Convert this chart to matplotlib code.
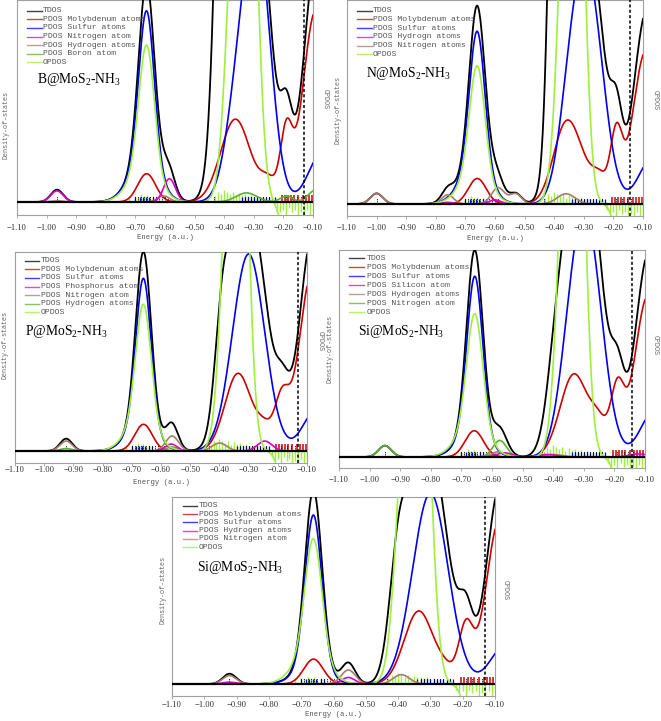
import numpy as np
import matplotlib
matplotlib.use("Agg")
import matplotlib.pyplot as plt
from matplotlib.lines import Line2D

plt.rcParams['mathtext.fontset'] = 'custom'
plt.rcParams['mathtext.rm'] = 'Liberation Serif'
plt.rcParams['mathtext.it'] = 'Liberation Serif:italic'

W, H = 661, 721

# ---------------- data (peak lists: centre [a.u.], height, width) ----------------
ENERGY_TICKS = [-1.10, -1.00, -0.90, -0.80, -0.70, -0.60, -0.50, -0.40, -0.30, -0.20, -0.10]
TICK_LABELS = ['\u22121.10', '\u22121.00', '\u22120.90', '\u22120.80', '\u22120.70', '\u22120.60',
               '\u22120.50', '\u22120.40', '\u22120.30', '\u22120.20', '\u22120.10']

# Panel 1  B@MoS2-NH3
B_MO = [(-0.662, 0.14, 0.03), (-0.362, 0.41, 0.05), (-0.25, 0.10, 0.028), (-0.19, 0.33, 0.02), (-0.09, 0.95, 0.0436)]
B_S = [(-0.662, 0.76, 0.026), (-0.672, 0.19, 0.05), (-0.36, 0.36, 0.04), (-0.29, 1.31, 0.045), (-0.07, 0.24, 0.045)]
B_N = [(-0.965, 0.055, 0.021), (-0.585, 0.115, 0.02)]
B_H = [(-0.965, 0.006, 0.021), (-0.605, 0.03, 0.02)]
B_B = [(-0.325, 0.045, 0.035), (-0.19, 0.03, 0.02), (-0.09, 0.06, 0.025)]
B_OTHER = [(-0.39, 2.86, 0.03)]
B_OPDOS = [(-0.662, 0.62, 0.026), (-0.672, 0.16, 0.05), (-0.36, 1.5, 0.03), (-0.314, 1.8, 0.027), (-0.12, -3.0, 0.035)]
B_HOMO = -0.131

# Panel 2  N@MoS2-NH3
N_MO = [(-0.66, 0.125, 0.03), (-0.365, 0.33, 0.042), (-0.31, 0.15, 0.045), (-0.245, 0.10, 0.025),
        (-0.19, 0.33, 0.02), (-0.09, 0.75, 0.0436)]
N_S = [(-0.66, 0.68, 0.026), (-0.67, 0.17, 0.05), (-0.345, 0.35, 0.04), (-0.285, 1.05, 0.05), (-0.07, 0.22, 0.045)]
N_HYD = [(-0.60, 0.02, 0.02), (-0.76, 0.008, 0.02)]
N_NIT = [(-1.00, 0.052, 0.021), (-0.76, 0.045, 0.02), (-0.59, 0.08, 0.022), (-0.53, 0.05, 0.02), (-0.36, 0.05, 0.03)]
N_OTHER = [(-0.39, 2.5, 0.0226)]
N_OPDOS = [(-0.66, 0.54, 0.026), (-0.67, 0.14, 0.05), (-0.355, 1.5, 0.03), (-0.326, 1.8, 0.027), (-0.11, -3.0, 0.035)]
N_HOMO = -0.143

# Panel 3  P@MoS2-NH3
P_MO = [(-0.66, 0.134, 0.03), (-0.336, 0.39, 0.045), (-0.245, 0.10, 0.028), (-0.185, 0.26, 0.025), (-0.085, 0.88, 0.042)]
P_S = [(-0.66, 0.75, 0.026), (-0.67, 0.12, 0.05), (-0.30, 0.99, 0.055), (-0.07, 0.20, 0.045)]
P_P = [(-0.565, 0.035, 0.02), (-0.245, 0.05, 0.025)]
P_NIT = [(-0.925, 0.05, 0.021), (-0.562, 0.075, 0.022), (-0.40, 0.04, 0.025)]
P_HYD = [(-0.925, 0.012, 0.021), (-0.562, 0.02, 0.02)]
P_OTHER = [(-0.39, 0.40, 0.025)]
P_OPDOS = [(-0.66, 0.59, 0.026), (-0.67, 0.15, 0.05), (-0.36, 1.5, 0.03), (-0.329, 1.8, 0.027), (-0.11, -3.0, 0.035)]
P_HOMO = -0.131

# Panel 4  Si@MoS2-NH3 (with N)
SI_MO = [(-0.658, 0.127, 0.03), (-0.332, 0.40, 0.045), (-0.25, 0.14, 0.028), (-0.19, 0.31, 0.022), (-0.09, 0.78, 0.0436)]
SI_S = [(-0.656, 0.775, 0.026), (-0.666, 0.10, 0.05), (-0.345, 0.25, 0.04), (-0.29, 1.08, 0.05), (-0.07, 0.22, 0.045)]
SI_SI = [(-0.56, 0.02, 0.025), (-0.42, 0.012, 0.03), (-0.12, 0.015, 0.03)]
SI_HYD = [(-0.58, 0.025, 0.022), (-0.40, 0.012, 0.03)]
SI_NIT = [(-0.95, 0.055, 0.021), (-0.575, 0.08, 0.022)]
SI_OTHER = [(-0.39, 0.30, 0.03)]
SI_OPDOS = [(-0.656, 0.556, 0.026), (-0.666, 0.139, 0.05), (-0.352, 1.5, 0.03), (-0.325, 1.8, 0.027), (-0.11, -3.0, 0.035)]
SI_HOMO = -0.144

# Panel 5  Si@MoS2-NH3
S5_MO = [(-0.662, 0.133, 0.03), (-0.336, 0.39, 0.045), (-0.25, 0.06, 0.028), (-0.19, 0.30, 0.022), (-0.085, 0.88, 0.042)]
S5_S = [(-0.662, 0.825, 0.026), (-0.672, 0.08, 0.05), (-0.30, 1.02, 0.055), (-0.07, 0.20, 0.045)]
S5_HYD = [(-0.922, 0.01, 0.021), (-0.554, 0.035, 0.02)]
S5_NIT = [(-0.922, 0.045, 0.021), (-0.554, 0.075, 0.022), (-0.39, 0.05, 0.025)]
S5_OTHER = [(-0.40, 0.5, 0.028)]
S5_OPDOS = [(-0.662, 0.62, 0.026), (-0.672, 0.16, 0.05), (-0.373, 1.5, 0.03), (-0.325, 1.8, 0.027), (-0.11, -3.0, 0.035)]
S5_HOMO = -0.131

# discrete orbital-level sticks (shared MoS2 cluster levels)
STICK_TDOS = [-0.70, -0.69, -0.68, -0.67, -0.66, -0.65, -0.64, -0.63, -0.62, -0.61, -0.60, -0.59,
              -0.435, -0.33, -0.32, -0.31, -0.30, -0.29, -0.28, -0.27, -0.26, -0.25, -0.24,
              -0.19, -0.17, -0.155, -0.14]
STICK_S = [-0.70, -0.685, -0.675, -0.665, -0.655, -0.64, -0.63, -0.34, -0.33, -0.32, -0.31, -0.30,
           -0.29, -0.28, -0.27, -0.26, -0.25, -0.24, -0.23]
STICK_MO = [-0.205, -0.195, -0.185, -0.175, -0.165, -0.15, -0.135, -0.125, -0.115, -0.105]
STICK_OP_E = [-0.72, -0.70, -0.69, -0.68, -0.67, -0.66, -0.65, -0.64, -0.43, -0.42, -0.41, -0.40, -0.39,
              -0.38, -0.37, -0.36, -0.35, -0.34, -0.33, -0.32, -0.31, -0.30, -0.29, -0.28, -0.27, -0.26,
              -0.22, -0.21, -0.20, -0.19, -0.18, -0.17, -0.16, -0.15, -0.14, -0.13, -0.12, -0.11, -0.10]
STICK_OP_H = [0.02, 0.03, 0.025, 0.04, 0.03, 0.035, 0.02, 0.03, 0.03, 0.05, 0.04, 0.06, 0.05,
              0.04, 0.05, 0.03, 0.045, 0.035, 0.04, 0.03, 0.035, 0.025, 0.03, 0.02, 0.025, 0.02,
              -0.03, -0.05, -0.04, -0.07, -0.03, -0.05, -0.04, -0.07, -0.05, -0.07, -0.04, -0.07, -0.05]
NH3_LEVEL = {'B': -0.965, 'N': -1.00, 'P': -0.925, 'SI': -0.95, 'S5': -0.922}

# ---------------- styling ----------------
C_TDOS, C_MO, C_S = '#000000', '#cc0000', '#0000ee'
C_MAG, C_BRN, C_DGR, C_OP = '#dd00cc', '#a67c6e', '#5cb030', '#9ef03c'

MONO = 'Liberation Mono'
SERIF = 'Liberation Serif'


def dos(x, peaks):
    y = np.zeros_like(x)
    for c, h, s in peaks:
        y += h * np.exp(-(x - c) ** 2 / (2 * s * s))
    return y


x = np.linspace(-1.10, -0.10, 2000)

panels = [
    dict(key='B', title='B@MoS$_2$-NH$_3$', box=(17, 313, 0, 215), base=202,
         comps=[(B_MO, C_MO), (B_S, C_S), (B_H, C_BRN), (B_B, C_DGR), (B_N, C_MAG)],
         other=B_OTHER, opdos=B_OPDOS, homo=B_HOMO,
         legend=[('TDOS', C_TDOS), ('PDOS Molybdenum atoms', C_MO), ('PDOS Sulfur atoms', C_S),
                 ('PDOS Nitrogen atom', C_MAG), ('PDOS Hydrogen atoms', C_BRN),
                 ('PDOS Boron atom', C_DGR), ('OPDOS', C_OP)],
         leg=(10.7, 8.6, 10, 25, 26), tpos=(37, 80), tick_y=228, xlab_y=237,
         dos_lab=(6, 125), op_lab=(325, 99)),
    dict(key='N', title='N@MoS$_2$-NH$_3$', box=(347, 643, 0, 216), base=204,
         comps=[(N_MO, C_MO), (N_S, C_S), (N_NIT, C_BRN), (N_HYD, C_MAG)],
         other=N_OTHER, opdos=N_OPDOS, homo=N_HOMO,
         legend=[('TDOS', C_TDOS), ('PDOS Molybdenum atoms', C_MO), ('PDOS Sulfur atoms', C_S),
                 ('PDOS Hydrogn atoms', C_MAG), ('PDOS Nitrogen atoms', C_BRN), ('OPDOS', C_OP)],
         leg=(10.7, 8.7, 10, 25, 26), tpos=(366, 73), tick_y=228, xlab_y=238,
         dos_lab=(338, 110), op_lab=(655, 100)),
    dict(key='P', title='P@MoS$_2$-NH$_3$', box=(15, 307, 252, 463), base=451,
         comps=[(P_MO, C_MO), (P_S, C_S), (P_NIT, C_BRN), (P_HYD, C_DGR), (P_P, C_MAG)],
         other=P_OTHER, opdos=P_OPDOS, homo=P_HOMO,
         legend=[('TDOS', C_TDOS), ('PDOS Molybdenum atoms', C_MO), ('PDOS Sulfur atoms', C_S),
                 ('PDOS Phosphorus atom', C_MAG), ('PDOS Nitrogen atom', C_BRN),
                 ('PDOS Hydrogen atoms', C_DGR), ('OPDOS', C_OP)],
         leg=(8.7, 8.6, 10, 24, 26), tpos=(25, 331), tick_y=470, xlab_y=483,
         dos_lab=(5, 345), op_lab=(320, 341)),
    dict(key='SI', title='Si@MoS$_2$-NH$_3$', box=(339, 645, 250, 468), base=457,
         comps=[(SI_MO, C_MO), (SI_S, C_S), (SI_HYD, C_BRN), (SI_NIT, C_DGR), (SI_SI, C_MAG)],
         other=SI_OTHER, opdos=SI_OPDOS, homo=SI_HOMO,
         legend=[('TDOS', C_TDOS), ('PDOS Molybdenum atoms', C_MO), ('PDOS Sulfur atoms', C_S),
                 ('PDOS Silicon atom', C_MAG), ('PDOS Hydrogen atoms', C_BRN),
                 ('PDOS Nitrogen atom', C_DGR), ('OPDOS', C_OP)],
         leg=(8.3, 9.0, 10, 25, 28), tpos=(358, 331), tick_y=480, xlab_y=None,
         dos_lab=(330, 349), op_lab=(655, 345)),
    dict(key='S5', title='Si@MoS$_2$-NH$_3$', box=(172, 495, 497, 696), base=684,
         comps=[(S5_MO, C_MO), (S5_S, C_S), (S5_NIT, C_BRN), (S5_HYD, C_MAG)],
         other=S5_OTHER, opdos=S5_OPDOS, homo=S5_HOMO,
         legend=[('TDOS', C_TDOS), ('PDOS Molybdenum atoms', C_MO), ('PDOS Sulfur atoms', C_S),
                 ('PDOS Hydrogen atoms', C_MAG), ('PDOS Nitrogen atom', C_BRN), ('OPDOS', C_OP)],
         leg=(8.7, 8.3, 11, 25, 27), tpos=(197, 567), tick_y=705, xlab_y=715,
         dos_lab=(163, 590), op_lab=(505, 590)),
]

fig = plt.figure(figsize=(W / 100, H / 100), dpi=100)


def fx(px):
    return px / W


def fy(py):
    return 1 - py / H


for p in panels:
    l, r, t, b = p['box']
    base = p['base']
    ax = fig.add_axes([fx(l), fy(b), (r - l) / W, (b - t) / H])
    ymin = -(b - base) / (base - t)
    ax.set_xlim(-1.10, -0.10)
    ax.set_ylim(ymin, 1.0)

    # sticks
    ax.vlines(STICK_OP_E, 0, STICK_OP_H, color=C_OP, lw=1.0, zorder=2)
    ax.vlines(STICK_MO, 0, 0.035, color=C_MO, lw=1.1, zorder=2)
    ax.vlines(STICK_S, 0, 0.025, color=C_S, lw=0.9, zorder=2)
    ax.vlines(STICK_TDOS + [NH3_LEVEL[p['key']]], 0, 0.03, color='k', lw=0.6,
              linestyles=(0, (1.5, 1.0)), zorder=2)

    # curves
    tdos = dos(x, p['other'])
    for peaks, col in p['comps']:
        tdos = tdos + dos(x, peaks)
    ax.plot(x, tdos, color=C_TDOS, lw=1.3, zorder=3)
    for peaks, col in p['comps']:
        ax.plot(x, dos(x, peaks), color=col, lw=1.2, zorder=4)
    ax.plot(x, dos(x, p['opdos']), color=C_OP, lw=1.2, zorder=5)

    ax.axhline(0, color='k', lw=1.6, zorder=6)
    ax.axvline(p['homo'], color='k', lw=1.1, ls=(0, (2, 1.5)), zorder=7)

    for sp in ax.spines.values():
        sp.set_color('#a0a0a0')
        sp.set_linewidth(0.8)
    ax.set_yticks([])
    ax.set_xticks(ENERGY_TICKS)
    ax.set_xticklabels([])
    ax.tick_params(axis='x', direction='out', length=2.5, width=0.6, color='#a0a0a0')

    for e, lab in zip(ENERGY_TICKS, TICK_LABELS):
        xp = l + (e + 1.10) / 1.0 * (r - l)
        fig.text(fx(xp), fy(p['tick_y']), lab, ha='center', va='center',
                 fontsize=6.2, family=SERIF, color='#333333')
    if p['xlab_y'] is not None:
        fig.text(fx((l + r) / 2), fy(p['xlab_y']), 'Energy (a.u.)', ha='center', va='center',
                 fontsize=5.2, family=MONO, color='#555555')

    dx, dy = p['dos_lab']
    fig.text(fx(dx), fy(dy), 'Density-of-states', rotation=90, ha='center', va='center',
             fontsize=4.9, family=MONO, color='#666666')
    ox, oy = p['op_lab']
    fig.text(fx(ox), fy(oy), 'OPDOS', rotation=270, ha='center', va='center',
             fontsize=4.9, family=MONO, color='#666666')

    y0, dyl, h0, h1, tx = p['leg']
    for i, (lab, col) in enumerate(p['legend']):
        yy = t + y0 + i * dyl
        fig.add_artist(Line2D([fx(l + h0), fx(l + h1)], [fy(yy), fy(yy)], color=col, lw=1.0,
                              alpha=0.75, transform=fig.transFigure))
        fig.text(fx(l + tx), fy(yy), lab, ha='left', va='center', fontsize=5.9,
                 family=MONO, color='#555555')

    tx0, ty0 = p['tpos']
    fig.text(fx(tx0), fy(ty0), p['title'], ha='left', va='center', fontsize=9.8,
             family=SERIF, color='black')

fig.savefig('out.png', dpi=100)
